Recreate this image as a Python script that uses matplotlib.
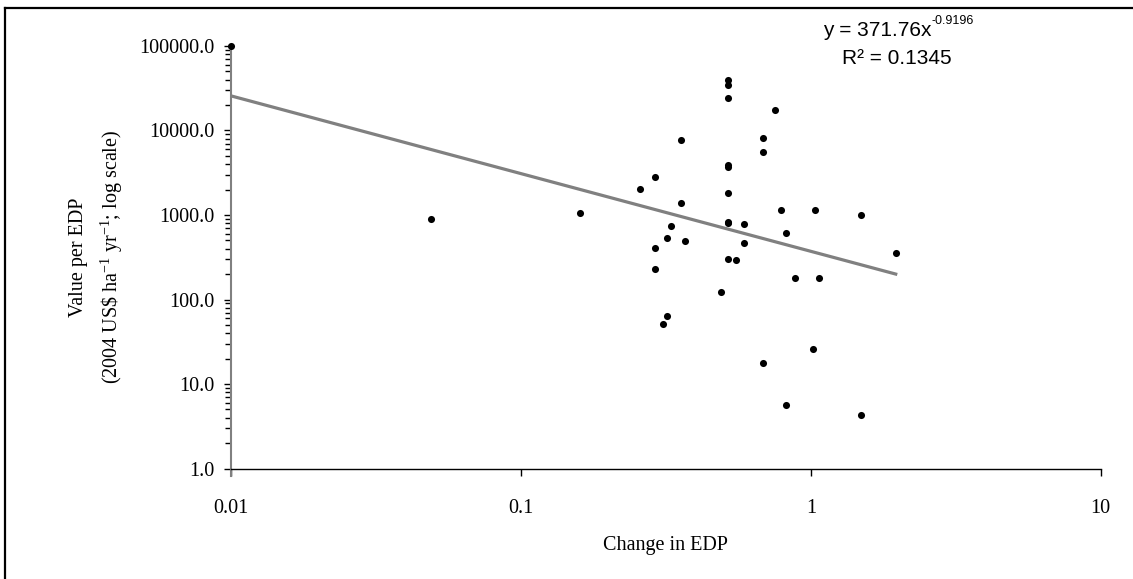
import matplotlib
matplotlib.use("Agg")
import matplotlib.pyplot as plt
from matplotlib.lines import Line2D
import numpy as np

# data
edp_change = [0.01, 0.049, 0.16, 0.258, 0.29, 0.29, 0.29, 0.31, 0.32, 0.32,
              0.329, 0.357, 0.357, 0.367, 0.49, 0.52, 0.52, 0.52, 0.52, 0.52,
              0.52, 0.52, 0.52, 0.52, 0.55, 0.589, 0.589, 0.684, 0.684, 0.684,
              0.755, 0.787, 0.82, 0.82, 0.879, 1.021, 1.035, 1.069, 1.485, 1.485,
              1.963]
value_per_edp = [100000, 900, 1050, 2040, 2830, 408, 230, 52, 64, 540,
                 749, 7700, 1390, 490, 124, 39100, 34800, 24200, 3920, 3745,
                 1840, 835, 800, 304, 291, 791, 467, 8040, 5490, 17.7,
                 17300, 1160, 619, 5.67, 181, 25.9, 1160, 181, 1000, 4.28,
                 352]

# power trendline shown on the chart
trend_a = 371.76
trend_b = -0.9196
trend_r2 = 0.1345

xticks = [0.01, 0.1, 1, 10]
xtick_labels = ['0.01', '0.1', '1', '10']
yticks = [1, 10, 100, 1000, 10000, 100000]
ytick_labels = ['1.0', '10.0', '100.0', '1000.0', '10000.0', '100000.0']

plt.rcParams['mathtext.fontset'] = 'custom'
plt.rcParams['mathtext.rm'] = 'Liberation Serif'
plt.rcParams['mathtext.it'] = 'Liberation Serif:italic'
plt.rcParams['font.family'] = ['Liberation Serif', 'DejaVu Sans']

fig = plt.figure(figsize=(11.33, 5.79), dpi=100)
ax = fig.add_axes([0.2039, 0.1908, 0.7676, 0.7298])

# trend line
tx = np.logspace(np.log10(min(edp_change)), np.log10(max(edp_change)), 200)
ax.plot(tx, trend_a * tx ** trend_b, color='#808080', lw=2.3, zorder=2)

ax.scatter(edp_change, value_per_edp, s=26, c='black', zorder=3, clip_on=False,
           linewidths=0)

ax.set_xscale('log')
ax.set_yscale('log')
ax.set_xlim(0.01, 10)
ax.set_ylim(1, 100000)

ax.set_xticks(xticks)
ax.set_xticklabels(xtick_labels)
ax.set_yticks(yticks)
ax.set_yticklabels(ytick_labels)
ax.xaxis.set_minor_locator(matplotlib.ticker.NullLocator())
ax.yaxis.set_minor_locator(matplotlib.ticker.LogLocator(base=10, subs=np.arange(2, 10)))
ax.yaxis.set_minor_formatter(matplotlib.ticker.NullFormatter())

ax.tick_params(axis='y', which='major', direction='out', length=5, width=1,
               pad=7, labelsize=14.5, color='black')
ax.tick_params(axis='y', which='minor', direction='out', length=4, width=1,
               color='black')
ax.tick_params(axis='x', which='major', direction='out', length=5, width=1,
               pad=17, labelsize=14.5, color='black')

for s in ['top', 'right']:
    ax.spines[s].set_visible(False)
ax.spines['left'].set_color('#808080')
ax.spines['left'].set_linewidth(1.5)
ax.spines['left'].set_bounds(0.82, 100000)
ax.spines['bottom'].set_color('black')
ax.spines['bottom'].set_linewidth(1.0)

ax.set_xlabel('Change in EDP', fontsize=14.5, labelpad=13)
ax.set_ylabel('Value per EDP\n' + r'(2004 US\$ ha$^{-1}$ yr$^{-1}$; log scale)',
              fontsize=14.5, labelpad=10, linespacing=1.6)

# equation of the trendline
t1 = fig.text(877 / 1133, 1 - 31 / 579, 'y = 371.76x', family='Liberation Sans',
              fontsize=15, ha='center', va='center')
ax.annotate('-0.9196', xy=(1, 0.72), xycoords=t1, family='Liberation Sans',
            fontsize=9, ha='left', va='bottom')
fig.text(897 / 1133, 1 - 59 / 579, 'R² = %.4f' % trend_r2, family='Liberation Sans',
         fontsize=15, ha='center', va='center')

# frame of the chart area (only left and top edges are visible)
fig.add_artist(Line2D([5.5 / 1133, 5.5 / 1133], [0, 1 - 7.5 / 579], color='black',
                      lw=1.6, transform=fig.transFigure))
fig.add_artist(Line2D([5.5 / 1133, 1], [1 - 7.5 / 579, 1 - 7.5 / 579], color='black',
                      lw=1.6, transform=fig.transFigure))

fig.savefig('out.png', dpi=100)
